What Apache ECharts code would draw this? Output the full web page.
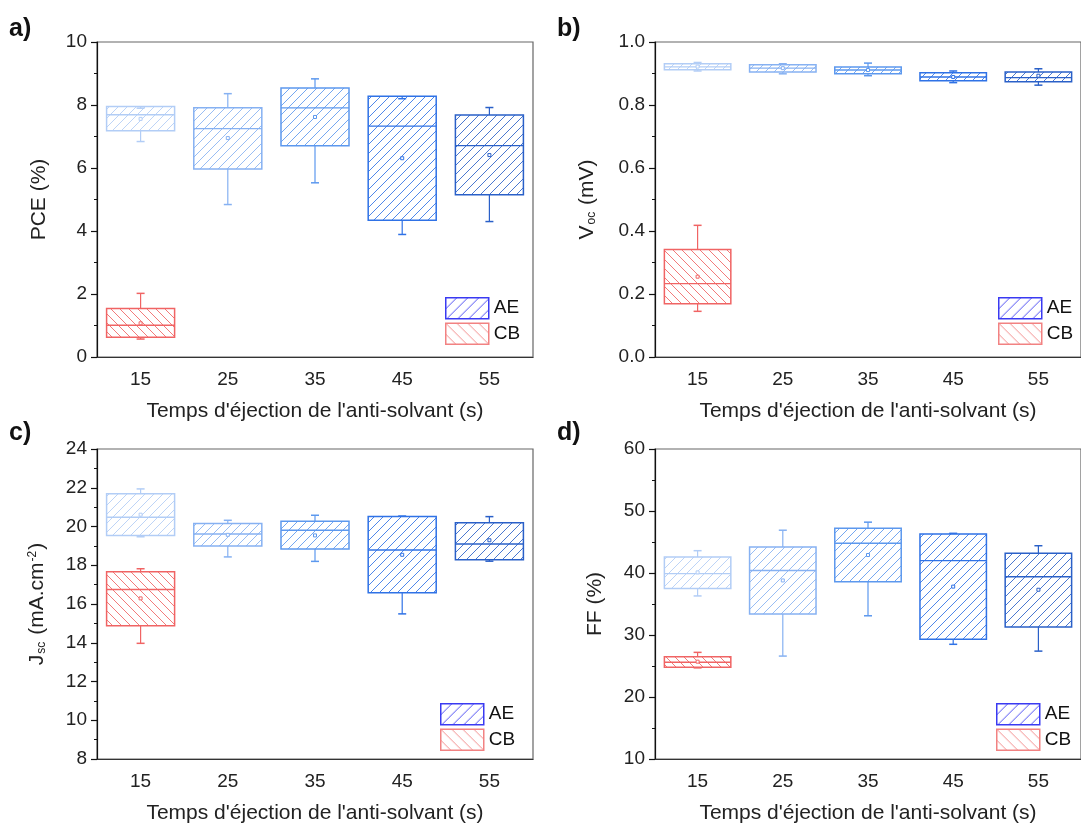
<!DOCTYPE html>
<html><head><meta charset="utf-8">
<script src="https://cdn.jsdelivr.net/npm/echarts@6/dist/echarts.min.js"></script>
<style>html,body{margin:0;padding:0;background:#fff}#c{width:1081px;height:825px}</style>
</head><body><div id="c"></div>
<script>
// ---------------- DATA ----------------
const categories = ['15', '25', '35', '45', '55'];
const xTitle = "Temps d'éjection de l'anti-solvant (s)";
// each row: [min, Q1, median, Q3, max, mean]
const pceAE = [[6.84, 7.18, 7.69, 7.95, 7.90, 7.56], [4.84, 5.97, 7.25, 7.91, 8.36, 6.95], [5.53, 6.71, 7.91, 8.54, 8.83, 7.62], [3.89, 4.34, 7.33, 8.28, 8.20, 6.31], [4.30, 5.15, 6.71, 7.68, 7.92, 6.41]];
const pceCB = [[0.57, 0.63, 1.01, 1.54, 2.02, 1.07]];
const vocAE = [[0.908, 0.912, 0.921, 0.931, 0.935, 0.922], [0.899, 0.905, 0.917, 0.928, 0.931, 0.917], [0.893, 0.899, 0.911, 0.921, 0.933, 0.911], [0.871, 0.877, 0.889, 0.902, 0.908, 0.889], [0.863, 0.874, 0.887, 0.905, 0.915, 0.893]];
const vocCB = [[0.145, 0.169, 0.233, 0.341, 0.418, 0.255]];
const jscAE = [[19.47, 19.54, 20.48, 21.69, 21.94, 20.61], [18.43, 19.00, 19.61, 20.15, 20.32, 19.57], [18.20, 18.84, 19.81, 20.27, 20.58, 19.54], [15.49, 16.58, 18.79, 20.51, 20.54, 18.54], [18.21, 18.28, 19.10, 20.20, 20.51, 19.29]];
const jscCB = [[13.97, 14.88, 16.75, 17.67, 17.82, 16.29]];
const ffAE = [[36.3, 37.5, 39.9, 42.6, 43.6, 40.1], [26.6, 33.4, 40.4, 44.2, 46.9, 38.8], [33.1, 38.6, 44.8, 47.2, 48.2, 42.9], [28.5, 29.3, 42.0, 46.3, 46.4, 37.8], [27.4, 31.3, 39.4, 43.2, 44.4, 37.3]];
const ffCB = [[24.7, 24.8, 25.6, 26.5, 27.2, 25.7]];
const cbCategoryIndex = [0];
// y-axis settings [min, max, interval]
const yPCE = [0, 10, 2];
const yVOC = [0, 1, 0.2];
const yJSC = [8, 24, 2];
const yFF = [10, 60, 10];

// ---------------- STYLE ----------------
const FONT = 'Liberation Sans, Arial, sans-serif';
const aeColors = ['#b2cdf6', '#86b1f2', '#5c98ee', '#2f72e6', '#2a60c8'];
const cbColors = ['#f06464'];
const legAEColor = '#3a3af2';
const legCBColor = '#f28282';

const patCache = {};
function hatch(color, dir, size, alpha) {
  const key = color + dir + size + alpha;
  if (patCache[key]) return patCache[key];
  const cv = document.createElement('canvas');
  cv.width = size; cv.height = size;
  const ctx = cv.getContext('2d');
  ctx.fillStyle = '#fff';
  ctx.fillRect(0, 0, size, size);
  ctx.strokeStyle = color;
  ctx.globalAlpha = alpha;
  ctx.lineWidth = 1;
  ctx.beginPath();
  const s = size;
  if (dir === '/') {
    for (const o of [-s, 0, s]) { ctx.moveTo(o - 1, s + 1); ctx.lineTo(o + s + 1, -1); }
  } else {
    for (const o of [-s, 0, s]) { ctx.moveTo(o - 1, -1); ctx.lineTo(o + s + 1, s + 1); }
  }
  ctx.stroke();
  const p = { type: 'pattern', image: cv, repeat: 'repeat' };
  patCache[key] = p;
  return p;
}

function makeRender(colors, dir) {
  return function (params, api) {
    const ci = api.value(0);
    const c = colors[params.dataIndex % colors.length];
    const bw = api.size([1, 0])[0] * 0.78;
    const cx = api.coord([ci, api.value(3)])[0];
    const y = k => api.coord([ci, api.value(k)])[1];
    const yMin = y(1), yQ1 = y(2), yMed = y(3), yQ3 = y(4), yMax = y(5), yMean = y(6);
    const x0 = cx - bw / 2;
    const cap = 4;
    return {
      type: 'group', children: [
        { type: 'rect', shape: { x: x0, y: yQ3, width: bw, height: yQ1 - yQ3 }, style: { fill: hatch(c, dir, 9, 0.85), stroke: c, lineWidth: 1.5 } },
        { type: 'line', shape: { x1: x0, y1: yMed, x2: x0 + bw, y2: yMed }, style: { stroke: c, lineWidth: 1.4 } },
        { type: 'line', shape: { x1: cx, y1: yQ3, x2: cx, y2: yMax }, style: { stroke: c, lineWidth: 1.2 } },
        { type: 'line', shape: { x1: cx, y1: yQ1, x2: cx, y2: yMin }, style: { stroke: c, lineWidth: 1.2 } },
        { type: 'line', shape: { x1: cx - cap, y1: yMax, x2: cx + cap, y2: yMax }, style: { stroke: c, lineWidth: 1.5 } },
        { type: 'line', shape: { x1: cx - cap, y1: yMin, x2: cx + cap, y2: yMin }, style: { stroke: c, lineWidth: 1.5 } },
        { type: 'rect', shape: { x: cx - 1.5, y: yMean - 1.5, width: 3, height: 3 }, style: { fill: '#fff', stroke: c, lineWidth: 1 } }
      ]
    };
  };
}

const panels = [
  { label: 'a)', ae: pceAE, cb: pceCB, y: yPCE, fmt: v => String(v), name: 'PCE (%)', nameGap: 47,
    grid: { left: 97, top: 42, width: 436, height: 315 }, lab: [9, 17], leg: [445, 297] },
  { label: 'b)', ae: vocAE, cb: vocCB, y: yVOC, fmt: v => v.toFixed(1), name: '{n|V}{s|oc}{n| (mV)}', nameGap: 57,
    grid: { left: 655, top: 42, width: 436, height: 315 }, lab: [557, 17], leg: [998, 297] },
  { label: 'c)', ae: jscAE, cb: jscCB, y: yJSC, fmt: v => String(v), name: '{n|J}{s|sc}{n| (mA.cm}{p|-2}{n|)}', nameGap: 49,
    grid: { left: 97, top: 449, width: 436, height: 315 }, lab: [9, 421], leg: [440, 703] },
  { label: 'd)', ae: ffAE, cb: ffCB, y: yFF, fmt: v => String(v), name: 'FF (%)', nameGap: 49,
    grid: { left: 655, top: 449, width: 436, height: 315 }, lab: [557, 421], leg: [996, 703] }
];

const grid = [], xAxis = [], yAxis = [], series = [], title = [], legend = [];
panels.forEach((p, i) => {
  grid.push(Object.assign({ show: true, borderColor: '#666', borderWidth: 1.2, backgroundColor: 'transparent' }, p.grid));
  title.push({ text: p.label, left: p.lab[0], top: p.lab[1], padding: 0, textStyle: { fontSize: 25, fontWeight: 'bold', color: '#111', fontFamily: FONT } });
  xAxis.push({
    type: 'category', gridIndex: i, data: categories, boundaryGap: true,
    name: xTitle, nameLocation: 'middle', nameGap: 44,
    nameTextStyle: { fontSize: 21, color: '#222', fontFamily: FONT },
    axisLine: { lineStyle: { color: '#333', width: 1.2 } },
    axisTick: { alignWithLabel: true, length: 6, lineStyle: { color: '#333', width: 1.2 } },
    axisLabel: { fontSize: 19, color: '#222', margin: 13, fontFamily: FONT },
    splitLine: { show: false }
  });
  yAxis.push({
    type: 'value', gridIndex: i, min: p.y[0], max: p.y[1], interval: p.y[2],
    name: p.name, nameLocation: 'middle', nameGap: p.nameGap, nameRotate: 90,
    nameTextStyle: { fontSize: 21, color: '#222', fontFamily: FONT,
      rich: { n: { fontSize: 21, color: '#222', fontFamily: FONT }, s: { fontSize: 12, color: '#222', fontFamily: FONT, verticalAlign: 'bottom', padding: [8, 1, 0, 1] }, p: { fontSize: 12, color: '#222', fontFamily: FONT, verticalAlign: 'top', padding: [0, 1, 8, 1] } } },
    axisLine: { show: true, lineStyle: { color: '#111', width: 1.2 } },
    axisTick: { show: true, length: 6, lineStyle: { color: '#111', width: 1.2 } },
    minorTick: { show: true, splitNumber: 2, length: 3, lineStyle: { color: '#111', width: 1 } },
    axisLabel: { fontSize: 19, color: '#222', margin: 10, fontFamily: FONT, formatter: p.fmt },
    splitLine: { show: false }
  });
  const aeData = p.ae.map((r, k) => [k].concat(r));
  const cbData = p.cb.map((r, k) => [cbCategoryIndex[k]].concat(r));
  series.push({
    type: 'custom', name: 'AE', xAxisIndex: i, yAxisIndex: i, data: aeData,
    encode: { x: 0, y: [1, 2, 3, 4, 5, 6] }, renderItem: makeRender(aeColors, '/'),
    itemStyle: { color: legAEColor }, z: 3
  });
  series.push({
    type: 'custom', name: 'CB', xAxisIndex: i, yAxisIndex: i, data: cbData,
    encode: { x: 0, y: [1, 2, 3, 4, 5, 6] }, renderItem: makeRender(cbColors, '\\'),
    itemStyle: { color: legCBColor }, z: 3
  });
  legend.push({
    orient: 'vertical', left: p.leg[0], top: p.leg[1], padding: 0, itemGap: 3,
    itemWidth: 43, itemHeight: 21, selectedMode: false,
    textStyle: { fontSize: 19, color: '#111', fontFamily: FONT },
    data: [
      { name: 'AE', icon: 'rect', itemStyle: { color: hatch(legAEColor, '/', 11, 0.9), borderColor: legAEColor, borderWidth: 1.5 } },
      { name: 'CB', icon: 'rect', itemStyle: { color: hatch(legCBColor, '\\', 11, 0.9), borderColor: legCBColor, borderWidth: 1.5 } }
    ]
  });
});

const chart = echarts.init(document.getElementById('c'), null, { renderer: 'canvas' });
chart.setOption({ animation: false, backgroundColor: '#fff', title, grid, xAxis, yAxis, series, legend });
</script>
</body></html>
